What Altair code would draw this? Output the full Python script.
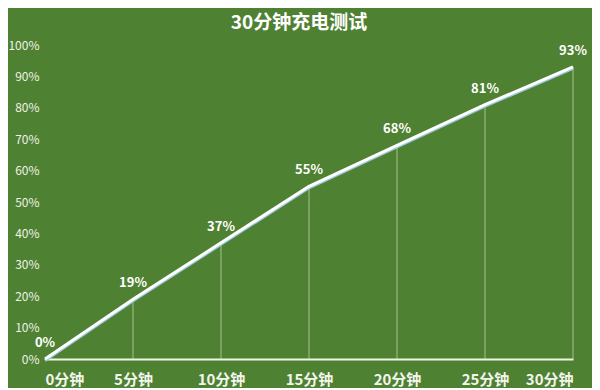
import altair as alt
import pandas as pd

minutes = [0, 5, 10, 15, 20, 25, 30]
percent = [0, 19, 37, 55, 68, 81, 93]
x_labels = ["0分钟", "5分钟", "10分钟", "15分钟", "20分钟", "25分钟", "30分钟"]
y_ticks = [0, 10, 20, 30, 40, 50, 60, 70, 80, 90, 100]
title = "30分钟充电测试"

df = pd.DataFrame({"m": minutes, "p": percent, "lab": [f"{v}%" for v in percent],
                   "xl": x_labels})

FONT = "Noto Sans CJK SC"
x_expr = "datum.value + '分钟'"

xs = alt.X("m:Q", scale=alt.Scale(domain=[0, 30], nice=False),
           axis=alt.Axis(values=minutes, labelExpr=x_expr, title=None, grid=False,
                         domain=True, domainColor="#eef5e4", domainWidth=2,
                         ticks=False, labelFontSize=15, labelFontWeight="bold",
                         labelColor="#f2f5ec", labelPadding=13, labelFont=FONT,
                         labelOverlap=False))
ys = alt.Y("p:Q", scale=alt.Scale(domain=[0, 100], nice=False),
           axis=alt.Axis(values=y_ticks, labelExpr="datum.value + '%'",
                         title=None, grid=False, domain=False, ticks=False,
                         labelFontSize=12, labelColor="#eef3e6", labelPadding=6, labelFont=FONT,
                         labelOverlap=False))

base = alt.Chart(df)

line = base.mark_line(color="#ffffff", strokeWidth=3).encode(x=xs, y=ys)
shadow = base.mark_line(color="#9fc8e0", strokeWidth=3, yOffset=1.5).encode(x=xs, y=ys)

rules = base.mark_rule(color="#dfeccf", strokeWidth=1, opacity=0.6).encode(
    x=xs, y=ys, y2=alt.datum(0))

labels = base.mark_text(dy=-16, fontSize=13, fontWeight="bold", color="#ffffff", font=FONT).encode(
    x=xs, y=ys, text="lab:N")

chart = alt.layer(rules, shadow, line, labels).properties(
    width=528, height=314,
    background="#4f8133",
    autosize=alt.AutoSizeParams(type="none"),
    padding={"left": 37, "top": 37, "right": 19, "bottom": 29},
    title=alt.TitleParams(title, fontSize=19, fontWeight="bold", color="#ffffff",
                          font=FONT, anchor="middle", offset=6, dx=-10),
).configure_view(stroke=None)

chart.save("out.html", embed_options={"renderer": "svg", "actions": False})
